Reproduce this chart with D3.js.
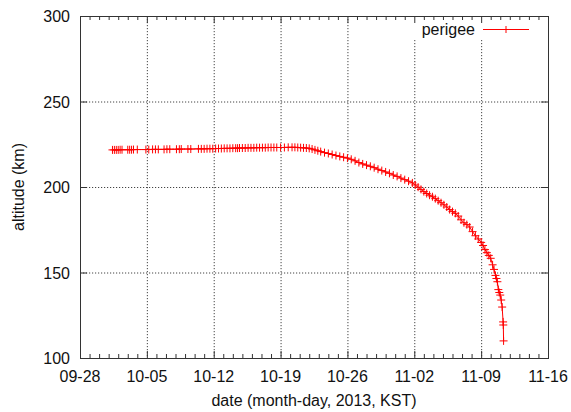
<!DOCTYPE html>
<html>
<head>
<meta charset="utf-8">
<script src="https://cdn.jsdelivr.net/npm/d3@7"></script>
<style>
  html, body { margin: 0; padding: 0; background: #fff; }
  svg { display: block; font-family: "Liberation Sans", Arial, sans-serif; }
  .tick-label { font-size: 16px; fill: #111; }
  .axis-title { font-size: 16px; fill: #111; }
  .grid line { stroke: #444; stroke-width: 1; stroke-dasharray: 1.2,1.8; }
  .frame { fill: none; stroke: #333; stroke-width: 1; }
  .tk { stroke: #333; stroke-width: 1; }
  .series { fill: none; stroke: #ff0000; stroke-width: 1; }
  .mark { stroke: #ff0000; stroke-width: 1; }
</style>
</head>
<body>
<script>
// perigee altitude of the satellite
// day = days after 2013-09-28 00:00 KST, alt = km
const START = new Date(2013, 8, 28);
const days = [
  3.4, 3.6, 3.8, 4.0, 4.2, 4.4, 5.0, 5.2, 5.4, 5.6, 6.0, 6.9, 7.2, 7.6, 7.9,
  8.2, 8.8, 9.1, 9.4, 10.1, 10.4, 10.6, 11.3, 11.6, 12.4, 12.7, 13.0, 13.3,
  13.6, 13.9, 14.2, 14.5, 14.8, 15.1, 15.4, 15.7, 16.0, 16.3, 16.5, 16.7, 17.0,
  17.3, 17.6, 17.9, 18.2, 18.5, 18.8, 19.1, 19.4, 19.7, 20.0, 20.3, 20.6,
  21.0, 21.4, 21.8, 22.2, 22.5, 22.8, 23.1, 23.4, 23.7, 24.0, 24.3, 24.6, 24.9,
  25.2, 25.6, 26.0, 26.4, 26.8, 27.2, 27.6, 28.0, 28.4, 28.8, 29.2, 29.6, 30.0,
  30.4, 30.8, 31.2, 31.6, 32.0, 32.4, 32.8, 33.2, 33.6, 34.0, 34.4, 34.8, 35.1,
  35.4, 35.7, 36.0, 36.3, 36.6, 36.9, 37.2, 37.5, 37.8, 38.1, 38.4, 38.7, 39.0,
  39.3, 39.6, 39.9, 40.2, 40.5, 40.8, 41.1, 41.4, 41.7, 42.0, 42.2, 42.4, 42.6,
  42.8, 43.0, 43.2, 43.35, 43.5, 43.6, 43.7, 43.8, 43.9, 44.0, 44.1, 44.2,
  44.3, 44.32, 44.35
];
const altitude = [
  221.7, 221.7, 221.7, 221.7, 221.8, 221.8, 221.8, 221.8, 221.8, 221.9, 221.9, 221.9, 221.9, 222.0, 222.0,
  222.0, 222.0, 222.1, 222.1, 222.1, 222.1, 222.2, 222.2, 222.2, 222.3, 222.3, 222.3, 222.4,
  222.4, 222.4, 222.5, 222.5, 222.5, 222.6, 222.6, 222.6, 222.7, 222.7, 222.7, 222.8, 222.8,
  222.8, 222.9, 222.9, 222.9, 223.0, 223.0, 223.0, 223.0, 223.1, 223.1, 223.1, 223.1,
  223.1, 223.1, 223.2, 223.2, 223.2, 223.1, 223.0, 222.9, 222.8, 222.6, 222.2, 221.7, 221.2,
  220.7, 220.1, 219.6, 219.0, 218.4, 217.9, 217.4, 216.9, 216.2, 215.3, 214.3, 213.5, 212.8,
  212.1, 211.3, 210.4, 209.6, 208.8, 208.0, 207.0, 206.2, 205.2, 204.3, 203.4, 202.4, 201.2,
  199.9, 198.6, 197.3, 196.2, 195.2, 194.3, 193.2, 192.0, 190.8, 189.6, 188.3, 186.8, 185.6,
  184.6, 183.0, 180.8, 179.1, 178.0, 176.6, 173.9, 171.5, 169.6, 167.6, 165.8, 163.4, 161.6,
  160.0, 158.3, 154.5, 151.8, 148.3, 146.5, 144.6, 140.0, 138.3, 136.8, 133.9, 129.8,
  121.1, 119.3, 110.0
];
const xTickDays = [0, 7, 14, 21, 28, 35, 42, 49];
const yTicks = [100, 150, 200, 250, 300];
const seriesName = "perigee";
const xTitle = "date (month-day, 2013, KST)";
const yTitle = "altitude (km)";

const W = 571, H = 412;
const M = { top: 16, right: 23, bottom: 54, left: 80 };
const IW = W - M.left - M.right;
const IH = H - M.top - M.bottom;

const toDate = (d) => new Date(START.getTime() + d * 86400000);
const data = days.map((d, i) => ({ t: toDate(d), v: altitude[i] }));

const x = d3.scaleTime().domain([toDate(0), toDate(49)]).range([0, IW]);
const y = d3.scaleLinear().domain([100, 300]).range([IH, 0]);
const fmt = d3.timeFormat("%m-%d");

const svg = d3.select("body").append("svg").attr("width", W).attr("height", H);
const g = svg.append("g").attr("transform", `translate(${M.left},${M.top})`);

// grid
const grid = g.append("g").attr("class", "grid");
grid.selectAll(".gx").data(xTickDays.slice(1, -1)).join("line")
  .attr("x1", (d) => x(toDate(d)) + 0.5).attr("x2", (d) => x(toDate(d)) + 0.5)
  .attr("y1", 0).attr("y2", IH);
grid.selectAll(".gy").data(yTicks.slice(1, -1)).join("line")
  .attr("class", "gy")
  .attr("x1", 0).attr("x2", IW)
  .attr("y1", (d) => y(d) + 0.5).attr("y2", (d) => y(d) + 0.5);

// legend backing (gnuplot key blanks the grid under it)
g.append("rect").attr("x", 322).attr("y", 1).attr("width", 140).attr("height", 23).attr("fill", "#fff");

// ticks: x major + daily minor, on bottom and top
const minorDays = d3.range(0, 50);
const tk = g.append("g");
tk.selectAll(".mx").data(minorDays).join("g").each(function (d) {
  const len = d % 7 === 0 ? 7 : 4;
  const px = x(toDate(d)) + 0.5;
  d3.select(this).append("line").attr("class", "tk").attr("x1", px).attr("x2", px).attr("y1", IH).attr("y2", IH - len);
  d3.select(this).append("line").attr("class", "tk").attr("x1", px).attr("x2", px).attr("y1", 0).attr("y2", len);
});
tk.selectAll(".my").data(yTicks).join("g").each(function (d) {
  const py = y(d) + 0.5;
  d3.select(this).append("line").attr("class", "tk").attr("x1", 0).attr("x2", 7).attr("y1", py).attr("y2", py);
  d3.select(this).append("line").attr("class", "tk").attr("x1", IW - 7).attr("x2", IW).attr("y1", py).attr("y2", py);
});

// tick labels
g.selectAll(".xl").data(xTickDays).join("text")
  .attr("class", "tick-label")
  .attr("x", (d) => x(toDate(d)))
  .attr("y", IH + 24)
  .attr("text-anchor", "middle")
  .text((d) => fmt(toDate(d)));
g.selectAll(".yl").data(yTicks).join("text")
  .attr("class", "tick-label")
  .attr("x", -10)
  .attr("y", (d) => y(d) + 6)
  .attr("text-anchor", "end")
  .text((d) => d);

// frame
g.append("rect").attr("class", "frame").attr("x", 0.5).attr("y", 0.5).attr("width", IW).attr("height", IH);

// series line + "+" markers
const line = d3.line().x((d) => x(d.t)).y((d) => y(d.v));
g.append("path").attr("class", "series").attr("d", line(data));
const S = 4;
const marks = g.append("g");
marks.selectAll("path").data(data).join("path")
  .attr("class", "mark")
  .attr("d", (d) => {
    const px = x(d.t), py = y(d.v);
    return `M${px - S},${py}H${px + S}M${px},${py - S}V${py + S}`;
  });

// legend
g.append("text").attr("class", "tick-label").attr("x", 395).attr("y", 19)
  .attr("text-anchor", "end").text(seriesName);
g.append("line").attr("class", "series").attr("x1", 403).attr("x2", 449).attr("y1", 13.5).attr("y2", 13.5);
g.append("line").attr("class", "mark").attr("x1", 426).attr("x2", 426).attr("y1", 10).attr("y2", 17);

// axis titles
svg.append("text").attr("class", "axis-title")
  .attr("x", M.left + IW / 2).attr("y", 406)
  .attr("text-anchor", "middle").text(xTitle);
svg.append("text").attr("class", "axis-title")
  .attr("transform", `translate(24,${M.top + IH / 2}) rotate(-90)`)
  .attr("text-anchor", "middle").text(yTitle);
</script>
</body>
</html>
